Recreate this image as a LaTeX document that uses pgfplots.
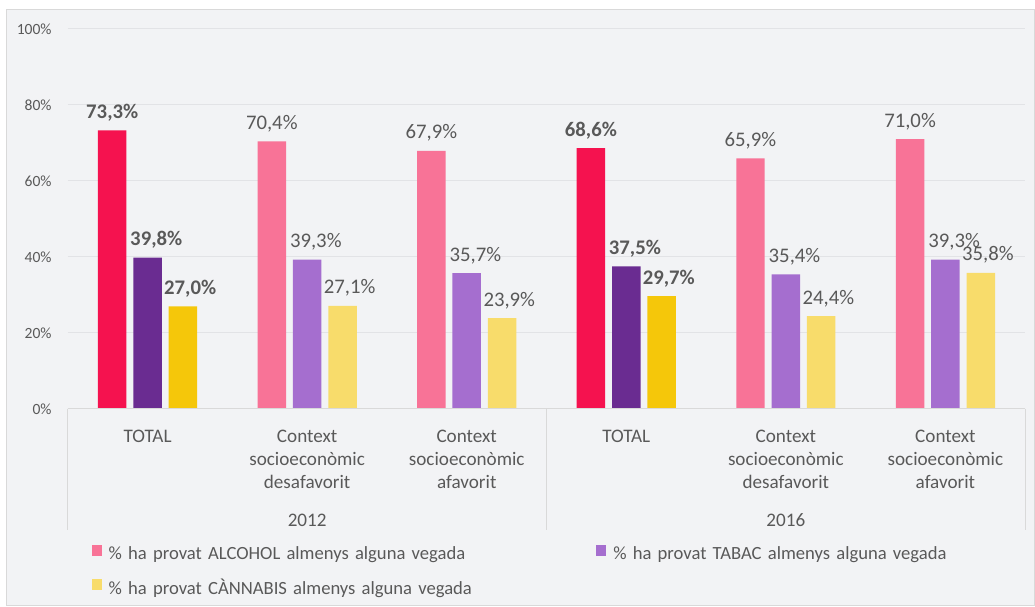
\documentclass[border=0pt]{standalone}
\usepackage{pgfplots}
\pgfplotsset{compat=1.18}
\usepackage{fontspec}
\setmainfont{Carlito}
\definecolor{dalc}{HTML}{F5124F}
\definecolor{dtab}{HTML}{6A2C91}
\definecolor{dcan}{HTML}{F5C70A}
\definecolor{lalc}{HTML}{F87397}
\definecolor{ltab}{HTML}{A56ECF}
\definecolor{lcan}{HTML}{F8DC6B}
\definecolor{labelgray}{HTML}{595959}
\definecolor{bggray}{HTML}{F2F3F5}
\definecolor{gridgray}{HTML}{E2E3E6}
\definecolor{linegray}{HTML}{D9D9D9}
\newcommand{\catfont}{\fontsize{14.4}{17.25}\selectfont}
\newcommand{\legfont}{\fontsize{14}{17}\selectfont}
\newcommand{\tickfont}{\fontsize{11.7}{14}\selectfont}
\newcommand{\datafont}{\fontsize{15.6}{18}\selectfont}
\pgfplotsset{
  mybar/.style={ybar, bar width=21.4pt, draw=none,
    legend image code/.code={\fill[##1] (0pt,-0.75pt) rectangle (7.5pt,7.5pt);}},
  mylabels/.style 2 args={nodes near coords={\pgfmathprintnumber[fixed,fixed zerofill,precision=1,use comma,assume math mode=true]{\pgfplotspointmeta}\%},
    every node near coord/.append style={font=\datafont#1, text=labelgray, anchor=base, yshift=9pt, xshift=#2}},
}
\begin{document}
\begin{tikzpicture}
\fill[white] (-51pt,-146.25pt) rectangle (725.25pt,307.5pt);
\filldraw[fill=bggray, draw=linegray, line width=0.75pt] (-45.75pt,300pt) rectangle (727pt,-148pt);
\path[use as bounding box] (-51pt,-146.25pt) rectangle (725.25pt,307.5pt);
\begin{axis}[
  at={(0,0)}, anchor=south west,
  scale only axis, width=720pt, height=285.75pt,
  xmin=-0.5, xmax=5.5, ymin=0, ymax=100,
  axis line style={draw=none},
  major tick length=0pt,
  ytick={0,20,40,60,80,100},
  yticklabels={0\%,20\%,40\%,60\%,80\%,100\%},
  yticklabel style={font=\tickfont, text=labelgray, inner sep=0pt, xshift=-12pt},
  ymajorgrids, grid style={gridgray, line width=0.75pt},
  xtick={0,1,2,3,4,5},
  xticklabels={TOTAL,{Context\\socioeconòmic\\desafavorit},{Context\\socioeconòmic\\afavorit},TOTAL,{Context\\socioeconòmic\\desafavorit},{Context\\socioeconòmic\\afavorit}},
  xticklabel style={align=center, font=\catfont, text=labelgray, anchor=north, inner sep=0pt, yshift=-16pt},
  clip=false,
  legend columns=2,
  legend cell align=left,
  legend style={at={(axis description cs:0.025,-0.3588)}, anchor=north west, draw=none, fill=none,
    inner sep=0pt, outer sep=0pt, font=\legfont, text=labelgray,
    nodes={inner sep=0pt, text height=10pt, text depth=3pt, text width=355pt},
    /tikz/every odd column/.append style={column sep=5.25pt},
    /tikz/every even column/.append style={column sep=11.75pt},
    row sep=11.75pt},
]
% light series (with legend entries)
\addplot[mybar, fill=lalc, bar shift=-26.6pt, mylabels={}{-26.6pt}] coordinates {(1,70.4) (2,67.9) (4,65.9) (5,71.0)};
\addlegendentry{\% ha provat ALCOHOL almenys alguna vegada}
\addplot[mybar, fill=ltab, bar shift=0pt, mylabels={}{6.5pt}] coordinates {(1,39.3) (2,35.7) (4,35.4) (5,39.3)};
\addlegendentry{\% ha provat TABAC almenys alguna vegada}
\addplot[mybar, fill=lcan, bar shift=26.6pt, mylabels={}{32pt}] coordinates {(1,27.1) (2,23.9) (4,24.4) (5,35.8)};
\addlegendentry{\% ha provat CÀNNABIS almenys alguna vegada}
% dark series (TOTAL)
\addplot[mybar, fill=dalc, bar shift=-26.6pt, mylabels={\bfseries}{-26.6pt}, forget plot] coordinates {(0,73.3) (3,68.6)};
\addplot[mybar, fill=dtab, bar shift=0pt, mylabels={\bfseries}{6.5pt}, forget plot] coordinates {(0,39.8) (3,37.5)};
\addplot[mybar, fill=dcan, bar shift=26.6pt, mylabels={\bfseries}{32pt}, forget plot] coordinates {(0,27.0) (3,29.7)};
% axis line and separators
\draw[linegray, line width=0.75pt] (axis cs:-0.5,0) -- (axis cs:5.5,0);
\draw[linegray, line width=0.75pt] (axis cs:-0.5,0) -- (axis cs:-0.5,-32);
\draw[linegray, line width=0.75pt] (axis cs:2.5,0) -- (axis cs:2.5,-32);
\draw[linegray, line width=0.75pt] (axis cs:5.5,0) -- (axis cs:5.5,-32);
\node[font=\catfont, text=labelgray] at (axis cs:1,-29.3) {2012};
\node[font=\catfont, text=labelgray] at (axis cs:4,-29.3) {2016};
\end{axis}
\end{tikzpicture}
\end{document}
